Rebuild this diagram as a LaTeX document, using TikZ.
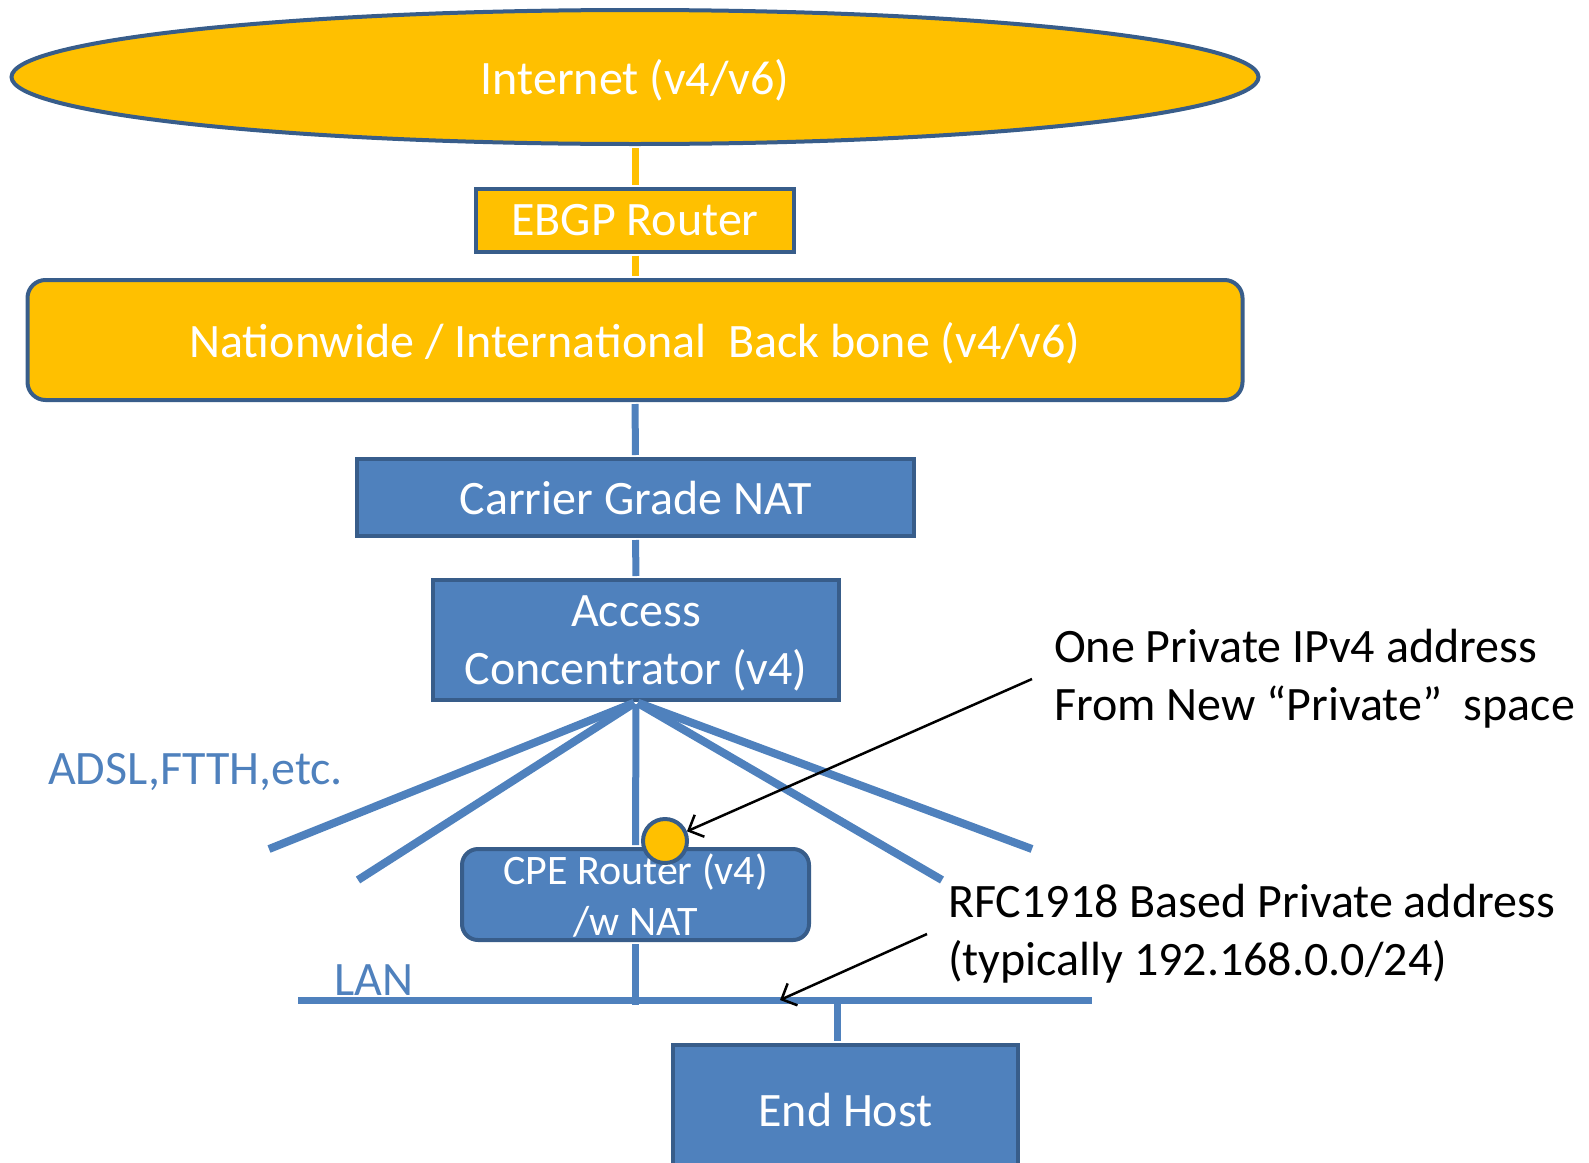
\documentclass[tikz,border=0pt]{standalone}
\usepackage{fontspec}
\setmainfont{Carlito}
\usepackage{xcolor}
\usetikzlibrary{arrows,arrows.meta,shapes,calc,positioning}
\definecolor{netorange}{HTML}{FFC000}
\definecolor{netblue}{HTML}{4F81BD}
\definecolor{netedge}{HTML}{385D8A}

\begin{document}
\begin{tikzpicture}[x=1pt,y=-1pt]
		\tikzstyle{every node}=[font=\fontsize{48}{58}\selectfont]
		\tikzstyle{orangebox}=[draw=netedge, fill=netorange, line width=4pt, text=white, inner sep=0pt, text depth=0pt, align=center]
		\tikzstyle{bluebox}=[draw=netedge, fill=netblue, line width=4pt, text=white, inner sep=0pt, text depth=0pt, align=center]
		\tikzstyle{bluelink}=[draw=netblue, line width=7pt, shorten <=2pt, shorten >=2pt]
		\tikzstyle{orangelink}=[draw=netorange, line width=7pt, shorten <=2pt, shorten >=2pt]
		\tikzstyle{note}=[align=left, anchor=west, inner sep=0pt]
		\tikzstyle{pointer}=[draw=black, line width=2.5pt, -{Straight Barb[length=12pt,width=24pt]}]
		\useasboundingbox (0,0) rectangle (1589,1162);
		\clip (0,0) rectangle (1589,1162);
		\node[orangebox, ellipse, minimum width=1247pt, minimum height=134pt] (internet) at (635,77) {Internet (v4/v6)};
		\node[orangebox, minimum width=318pt, minimum height=63pt] (ebgp) at (635,220) {EBGP Router};
		\node[orangebox, rounded corners=18pt, minimum width=1215pt, minimum height=120pt] (backbone) at (635,340) {Nationwide / International\ \ Back bone (v4/v6)};
		\node[bluebox, minimum width=557pt, minimum height=77pt] (cgn) at (635.5,497.5) {Carrier Grade NAT};
		\node[bluebox, minimum width=406pt, minimum height=120pt] (ac) at (636,640) {Access\\Concentrator (v4)};
		\node[bluebox, rounded corners=16pt, minimum width=347pt, minimum height=91pt, font=\fontsize{42}{51}\selectfont] (cpe) at (635.5,894.5) {CPE Router (v4)\\/w NAT};
		\node[bluebox, minimum width=345pt, minimum height=130pt] (host) at (845.5,1110) {End Host};
		\coordinate (fan1) at (269,849);
		\coordinate (fan2) at (358,880);
		\coordinate (fan3) at (942,880);
		\coordinate (fan4) at (1032,849);
		\coordinate (lanL) at (298,1000);
		\coordinate (lanR) at (1092,1000);
		\coordinate (lanhit) at (780,1000);
		\draw[orangelink] (internet.south) -- (ebgp.north);
		\draw[orangelink] (ebgp.south) -- (backbone.north);
		\draw[bluelink] (backbone.south) -- (cgn.north);
		\draw[bluelink] (cgn.south) -- (ac.north);
		\foreach \e in {fan1,fan2,fan3,fan4}
			\draw[bluelink, line width=8pt, shorten >=0pt] (ac.south) -- (\e);
		\draw[bluelink] (ac.south) -- (cpe.north);
		\draw[bluelink, shorten <=0pt, shorten >=0pt] (lanL) -- (lanR);
		\draw[bluelink, shorten >=-5pt] (cpe.south) -- (cpe.south |- lanL);
		\draw[bluelink, shorten <=0pt] ([xshift=-8pt]host.north |- lanL) -- ([xshift=-8pt]host.north);
		\node[circle, draw=netedge, fill=netorange, line width=4pt, minimum size=44pt, inner sep=0pt] (dot) at (665,841) {};
		\node[text=netblue, anchor=west, inner sep=0pt] (access) at (48,772) {ADSL,FTTH,etc.};
		\node[text=netblue, anchor=west, inner sep=0pt] (lan) at (334,980) {LAN};
		\node[note] (natnote) at (1054,679) {One Private IPv4 address\\From New “Private”\ \ space};
		\node[note] (lannote) at (948,934) {RFC1918 Based Private address\\(typically 192.168.0.0/24)};
		\draw[pointer] ([xshift=-22pt]natnote.west) -- (dot);
		\draw[pointer] ([xshift=-21pt]lannote.west) -- (lanhit);
	\end{tikzpicture}
\end{document}
